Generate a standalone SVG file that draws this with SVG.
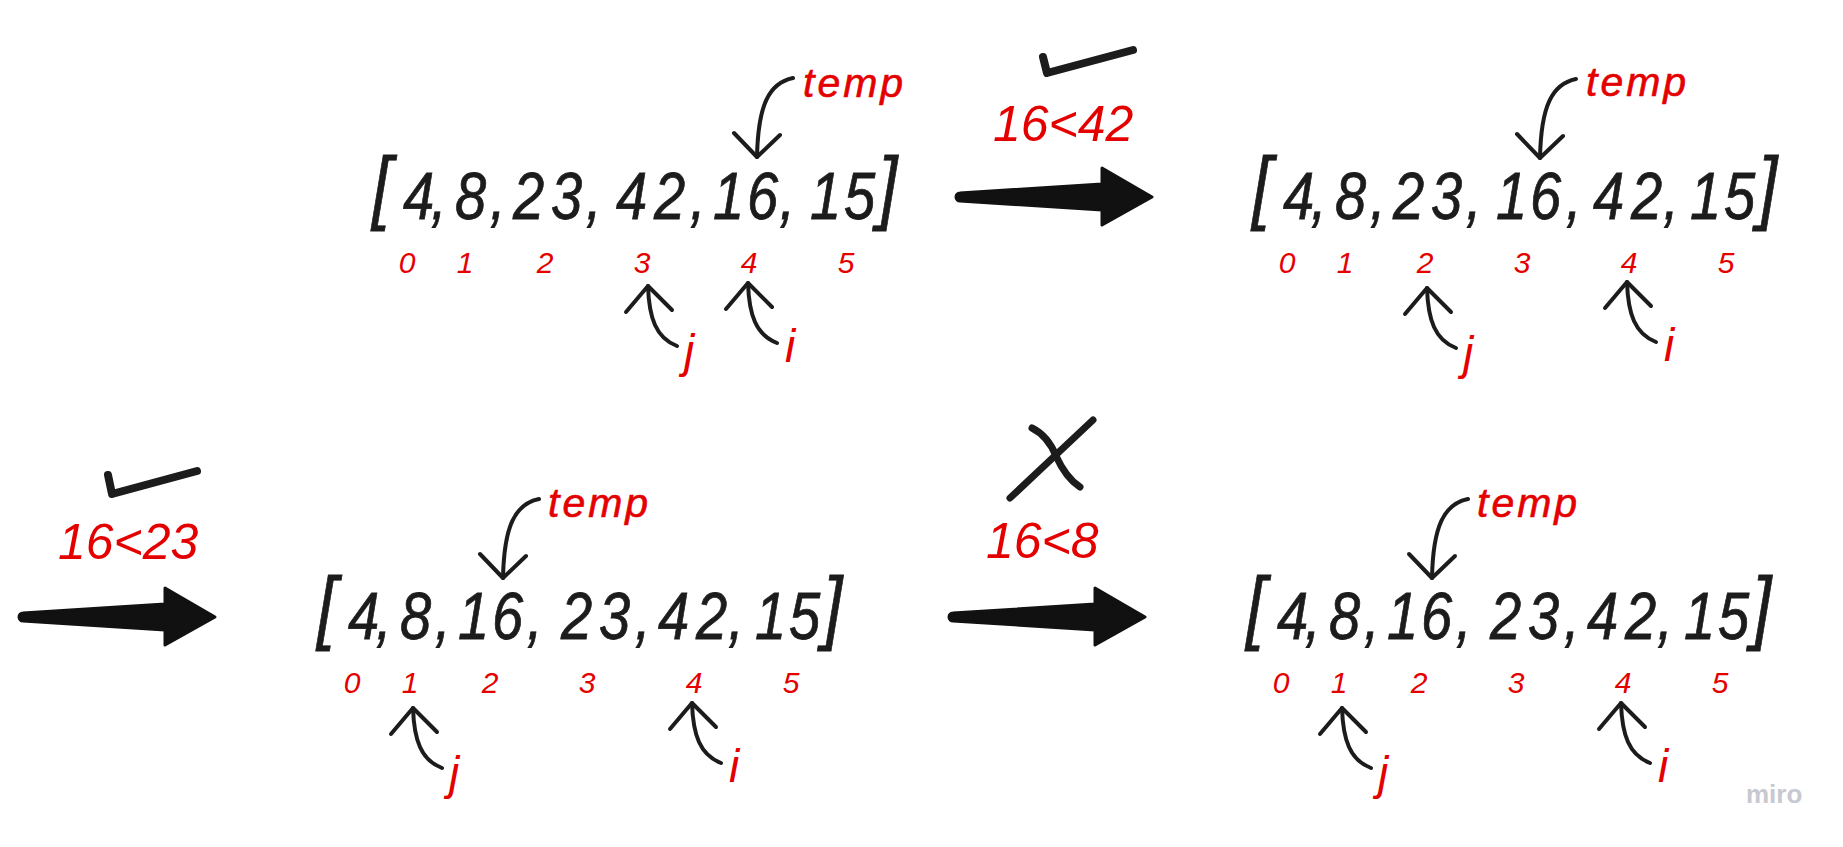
<svg xmlns="http://www.w3.org/2000/svg" xmlns:xlink="http://www.w3.org/1999/xlink" width="1843" height="847" viewBox="0 0 1843 847">
  <style>
    text { font-family: "Liberation Sans", "DejaVu Sans", sans-serif; font-style: italic; }
    .arr { font-size: 66px; fill: #1c1c1c; stroke: #1c1c1c; stroke-width: 0.8px; }
    .br { font-size: 82px; }
    .idx { font-size: 30px; fill: #e50000; text-anchor: middle; }
    .tmp { font-size: 41px; fill: #e50000; letter-spacing: 3px; stroke: #e50000; stroke-width: 0.6px; }
    .cmp { font-size: 50px; fill: #e50000; }
    .lbl { font-size: 46px; fill: #e50000; }
    .ptr { fill: none; stroke: #1c1c1c; stroke-width: 4; stroke-linecap: round; stroke-linejoin: round; }
    .big { fill: #111111; stroke: #111111; stroke-width: 3; stroke-linejoin: round; }
    .mark { fill: none; stroke: #1c1c1c; stroke-width: 8; stroke-linecap: round; stroke-linejoin: round; }
    .miro { font-style: normal; font-weight: bold; font-size: 26px; fill: #c6c9d0; }
  </style>
  <defs>
    <g id="tempPtr">
      <path class="ptr" d="M36,-79 C12,-74 1,-52 0,0"/>
      <path class="ptr" d="M-23,-24 L0,0 L23,-22"/>
    </g>
    <g id="upPtr">
      <path class="ptr" d="M0,0 C1,32 8,52 29,60"/>
      <path class="ptr" d="M-22,26 L0,0 L24,24"/>
    </g>
    <path id="bigArrow" class="big" d="M0,-4 L142,-13 L142,-29 L192,0 L142,28 L142,13 L0,4 A4,4 0 0 1 0,-4 Z"/>
  </defs>

  <!-- Panel 1 -->
  <g id="panel1">
    <text class="arr" transform="scale(0.85,1)"><tspan class="br" x="437.6" y="214">[</tspan><tspan x="474.1" y="219">4</tspan><tspan x="507.1" y="219">,</tspan><tspan x="535.3" y="219">8</tspan><tspan x="576.5" y="219">,</tspan><tspan x="603.5 648.2" y="219">23</tspan><tspan x="689.4" y="219">,</tspan><tspan x="724.7 769.4" y="219">42</tspan><tspan x="811.8" y="219">,</tspan><tspan x="838.8 878.8" y="219">16</tspan><tspan x="917" y="219">,</tspan><tspan x="952.9 992.9" y="219">15</tspan><tspan class="br" x="1032.9" y="214">]</tspan></text>
    <text class="idx" y="273"><tspan x="407">0</tspan><tspan x="465">1</tspan><tspan x="545">2</tspan><tspan x="642">3</tspan><tspan x="749">4</tspan><tspan x="846">5</tspan></text>
    <use href="#tempPtr" x="757" y="157"/>
    <text class="tmp" x="803" y="97">temp</text>
    <use href="#upPtr" x="648" y="286"/>
    <text class="lbl" x="684" y="367">j</text>
    <use href="#upPtr" x="748" y="283"/>
    <text class="lbl" x="785" y="362">i</text>
  </g>

  <!-- Panel 2 -->
  <g id="panel2" transform="translate(880,0)">
    <text class="arr" transform="scale(0.85,1)"><tspan class="br" x="437.6" y="214">[</tspan><tspan x="474.1" y="219">4</tspan><tspan x="507.1" y="219">,</tspan><tspan x="535.3" y="219">8</tspan><tspan x="576.5" y="219">,</tspan><tspan x="603.5 648.2" y="219">23</tspan><tspan x="689.4" y="219">,</tspan><tspan x="724.7 764.7" y="219">16</tspan><tspan x="807.1" y="219">,</tspan><tspan x="838.8 883.5" y="219">42</tspan><tspan x="921.5" y="219">,</tspan><tspan x="952.9 992.9" y="219">15</tspan><tspan class="br" x="1032.9" y="214">]</tspan></text>
    <text class="idx" y="273"><tspan x="407">0</tspan><tspan x="465">1</tspan><tspan x="545">2</tspan><tspan x="642">3</tspan><tspan x="749">4</tspan><tspan x="846">5</tspan></text>
    <use href="#tempPtr" x="660" y="158"/>
    <text class="tmp" x="706" y="96">temp</text>
    <use href="#upPtr" x="547" y="288"/>
    <text class="lbl" x="583" y="369">j</text>
    <use href="#upPtr" x="747" y="282"/>
    <text class="lbl" x="784" y="361">i</text>
  </g>

  <!-- Panel 3 -->
  <g id="panel3" transform="translate(-55,420)">
    <text class="arr" transform="scale(0.85,1)"><tspan class="br" x="437.6" y="214">[</tspan><tspan x="474.1" y="219">4</tspan><tspan x="507.1" y="219">,</tspan><tspan x="535.3" y="219">8</tspan><tspan x="576.5" y="219">,</tspan><tspan x="603.5 643.5" y="219">16</tspan><tspan x="684.7" y="219">,</tspan><tspan x="724.7 769.4" y="219">23</tspan><tspan x="811.8" y="219">,</tspan><tspan x="838.8 883.5" y="219">42</tspan><tspan x="921.5" y="219">,</tspan><tspan x="952.9 992.9" y="219">15</tspan><tspan class="br" x="1032.9" y="214">]</tspan></text>
    <text class="idx" y="273"><tspan x="407">0</tspan><tspan x="465">1</tspan><tspan x="545">2</tspan><tspan x="642">3</tspan><tspan x="749">4</tspan><tspan x="846">5</tspan></text>
    <use href="#tempPtr" x="558" y="158"/>
    <text class="tmp" x="603" y="97">temp</text>
    <use href="#upPtr" x="468" y="288"/>
    <text class="lbl" x="504" y="369">j</text>
    <use href="#upPtr" x="747" y="283"/>
    <text class="lbl" x="784" y="362">i</text>
  </g>

  <!-- Panel 4 -->
  <g id="panel4" transform="translate(874,420)">
    <text class="arr" transform="scale(0.85,1)"><tspan class="br" x="437.6" y="214">[</tspan><tspan x="474.1" y="219">4</tspan><tspan x="507.1" y="219">,</tspan><tspan x="535.3" y="219">8</tspan><tspan x="576.5" y="219">,</tspan><tspan x="603.5 643.5" y="219">16</tspan><tspan x="684.7" y="219">,</tspan><tspan x="724.7 769.4" y="219">23</tspan><tspan x="811.8" y="219">,</tspan><tspan x="838.8 883.5" y="219">42</tspan><tspan x="921.5" y="219">,</tspan><tspan x="952.9 992.9" y="219">15</tspan><tspan class="br" x="1032.9" y="214">]</tspan></text>
    <text class="idx" y="273"><tspan x="407">0</tspan><tspan x="465">1</tspan><tspan x="545">2</tspan><tspan x="642">3</tspan><tspan x="749">4</tspan><tspan x="846">5</tspan></text>
    <use href="#tempPtr" x="558" y="158"/>
    <text class="tmp" x="603" y="97">temp</text>
    <use href="#upPtr" x="468" y="288"/>
    <text class="lbl" x="504" y="369">j</text>
    <use href="#upPtr" x="747" y="283"/>
    <text class="lbl" x="784" y="362">i</text>
  </g>

  <!-- Comparison labels and marks -->
  <g id="step1-label">
    <path class="mark" d="M1043,57 L1047,73 L1133,50"/>
    <text class="cmp" x="993" y="141">16&lt;42</text>
  </g>
  <g id="step2-label">
    <path class="mark" d="M108,475 L112,494 L197,471"/>
    <text class="cmp" x="58" y="559">16&lt;23</text>
  </g>
  <g id="step3-label">
    <path class="mark" style="stroke-width:7" d="M1010,498 L1093,420"/>
    <path class="mark" style="stroke-width:7" d="M1032,428 Q1048,436 1056,456 Q1066,478 1080,487"/>
    <text class="cmp" x="986" y="558">16&lt;8</text>
  </g>

  <!-- Connectors -->
  <g id="connectors">
    <use href="#bigArrow" x="960" y="197"/>
    <use href="#bigArrow" x="23" y="617"/>
    <use href="#bigArrow" x="953" y="617"/>
  </g>

  <text class="miro" x="1746" y="803">miro</text>
</svg>
